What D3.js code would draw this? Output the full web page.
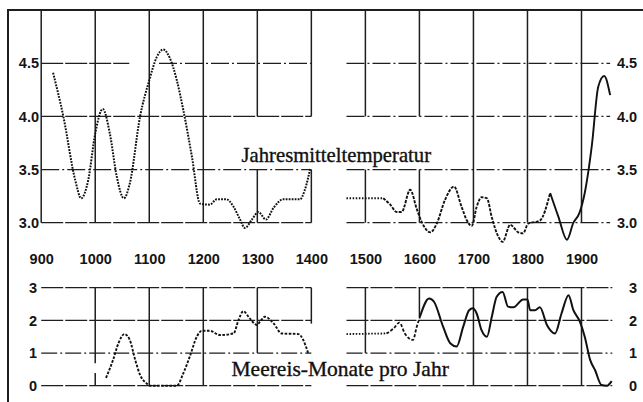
<!DOCTYPE html>
<html>
<head>
<meta charset="utf-8">
<script src="https://cdn.jsdelivr.net/npm/d3@7"></script>
<style>
body { margin: 0; background: #fff; }
svg { display: block; }
.tick text { font-family: "Liberation Sans", Arial, sans-serif; font-weight: bold; font-size: 14.5px; fill: #141414; }
.title { font-family: "Liberation Serif", "Times New Roman", serif; fill: #111; stroke: #111; stroke-width: 0.35px; }
</style>
</head>
<body>
<svg></svg>
<script>
const size = {w: 643, h: 402};
const svg = d3.select('svg').attr('width', size.w).attr('height', size.h);

// ---- values ----
const centuries = [900, 1000, 1100, 1200, 1300, 1400, 1500, 1600, 1700, 1800, 1900];
const tempTicks = [3.0, 3.5, 4.0, 4.5];
const iceTicks = [0, 1, 2, 3];

// annual mean temperature, 900-1400
const tempYearsEarly = [922, 941, 963, 974, 987, 1000, 1014, 1027, 1040, 1053, 1064, 1083, 1100, 1114, 1126, 1138, 1151, 1163, 1179, 1194, 1212, 1225, 1243, 1256, 1268, 1277, 1290, 1302, 1316, 1330, 1348, 1379, 1388, 1398];
const tempValuesEarly = [4.41, 4.0, 3.40, 3.23, 3.40, 3.84, 4.07, 3.84, 3.43, 3.23, 3.37, 4.0, 4.34, 4.56, 4.63, 4.55, 4.34, 4.06, 3.62, 3.18, 3.17, 3.22, 3.22, 3.15, 3.03, 2.95, 3.03, 3.10, 3.03, 3.14, 3.22, 3.22, 3.31, 3.51];
// annual mean temperature, 1465-1953
const tempYearsLate = [1465, 1533, 1546, 1558, 1567, 1583, 1595, 1604, 1620, 1632, 1647, 1664, 1678, 1688, 1697, 1706, 1715, 1725, 1734, 1746, 1754, 1768, 1783, 1792, 1801, 1823, 1842, 1857, 1873, 1885, 1896, 1906, 1919, 1931, 1942, 1953];
const tempValuesLate = [3.23, 3.23, 3.17, 3.10, 3.10, 3.31, 3.13, 3.01, 2.91, 2.99, 3.21, 3.34, 3.15, 3.02, 2.97, 3.15, 3.24, 3.23, 3.05, 2.87, 2.82, 2.98, 2.91, 2.90, 2.99, 3.02, 3.28, 3.06, 2.84, 3.00, 3.09, 3.28, 3.72, 4.28, 4.38, 4.20];

// sea-ice months per year
const iceYearsEarly = [1020, 1033, 1043, 1054, 1064, 1074, 1083, 1095, 1101, 1151, 1163, 1175, 1188, 1197, 1212, 1231, 1256, 1265, 1274, 1286, 1299, 1305, 1314, 1330, 1345, 1376, 1385, 1394];
const iceValuesEarly = [0.24, 0.79, 1.30, 1.58, 1.40, 0.79, 0.33, 0.07, 0.0, 0.0, 0.38, 0.89, 1.50, 1.68, 1.68, 1.55, 1.60, 2.0, 2.28, 2.06, 1.86, 1.96, 2.11, 1.91, 1.60, 1.58, 1.40, 1.0];
const iceYearsLate = [1465, 1539, 1552, 1563, 1573, 1588, 1595, 1601, 1618, 1627, 1644, 1657, 1669, 1681, 1692, 1699, 1706, 1715, 1725, 1734, 1743, 1754, 1764, 1774, 1792, 1800, 1805, 1814, 1823, 1836, 1851, 1863, 1876, 1885, 1897, 1906, 1916, 1925, 1937, 1947, 1956];
const iceValuesLate = [1.58, 1.60, 1.75, 1.93, 1.60, 1.40, 1.80, 2.11, 2.67, 2.57, 1.80, 1.30, 1.20, 1.80, 2.31, 2.37, 2.21, 1.70, 1.50, 2.11, 2.72, 2.87, 2.42, 2.40, 2.64, 2.64, 2.31, 2.31, 2.40, 1.86, 1.60, 2.21, 2.77, 2.31, 1.96, 1.50, 0.79, 0.48, 0.02, 0.0, 0.14];

// scales
const x = d3.scaleLinear().domain([900, 1900]).range([41.2, 581.5]);
const yT = d3.scaleLinear().domain([3, 4.5]).range([222.7, 63.3]);
const yI = d3.scaleLinear().domain([0, 3]).range([385.7, 287.7]);

const ink = '#1e1e1e';

// outer frame (left + top only)
svg.append('path')
    .attr('d', `M8,${size.h} V10 H${size.w}`)
    .attr('fill', 'none').attr('stroke', ink).attr('stroke-width', 2);

const gridG = svg.append('g').attr('stroke', ink).attr('fill', 'none');

function hLine(y, x0, x1, dash) {
    gridG.append('line')
        .attr('x1', x(x0)).attr('x2', x(x1))
        .attr('y1', y).attr('y2', y)
        .attr('stroke-width', 1.3)
        .attr('stroke-dasharray', dash);
}
function vLine(year, y0, y1) {
    gridG.append('line')
        .attr('x1', x(year)).attr('x2', x(year))
        .attr('y1', y0).attr('y2', y1)
        .attr('stroke-width', 1.5);
}

// ---- top panel grid ----
tempTicks.forEach(v => {
    if (v === 4.5) {
        hLine(yT(v), 900, 1063, '22,2');
        hLine(yT(v), 1118, 1400, '18,3,2,3');
    } else {
        hLine(yT(v), 900, 1400, v === 3.5 ? '18,3,2,3' : '22,2');
    }
    hLine(yT(v), 1465, 1953, '18,3,2,3');
});
centuries.forEach(c => {
    if ([1300, 1400, 1500, 1600].includes(c)) {
        vLine(c, 10, yT(4.0));
        vLine(c, yT(3.5), yT(3.0));
    } else {
        vLine(c, 10, yT(3.0));
    }
});

// ---- bottom panel grid ----
iceTicks.forEach(v => {
    hLine(yI(v), 900, 1400, v === 1 ? '16,3,2,3' : '22,2');
    hLine(yI(v), 1465, 1957, v === 1 ? '16,3,2,3' : '22,2');
});
const iceVLow = {1000: 0, 1100: 0, 1200: 0, 1300: 1, 1400: 1.9, 1500: 1, 1600: 2.1, 1700: 0, 1800: 0, 1900: 0};
Object.keys(iceVLow).forEach(k => {
    const c = +k;
    if (c === 1000) {
        vLine(c, yI(3), yI(0.69));
        vLine(c, yI(0.39), yI(0));
    } else {
        vLine(c, yI(3), yI(iceVLow[k]));
    }
});

// ---- axes (labels only) ----
function clean(g) { g.select('.domain').remove(); }

svg.append('g')
    .attr('transform', 'translate(0,253.5)')
    .call(d3.axisBottom(x).tickValues(centuries).tickSize(0).tickPadding(0).tickFormat(d3.format('d')))
    .call(clean);

svg.append('g')
    .attr('transform', 'translate(39,0)')
    .call(d3.axisLeft(yT).tickValues(tempTicks).tickSize(0).tickPadding(0).tickFormat(d3.format('.1f')))
    .call(clean);
svg.append('g')
    .attr('transform', 'translate(617,0)')
    .call(d3.axisRight(yT).tickValues(tempTicks).tickSize(0).tickPadding(0).tickFormat(d3.format('.1f')))
    .call(clean);

svg.append('g')
    .attr('transform', 'translate(37,0)')
    .call(d3.axisLeft(yI).tickValues(iceTicks).tickSize(0).tickPadding(0).tickFormat(d3.format('d')))
    .call(clean);
svg.append('g')
    .attr('transform', 'translate(629,0)')
    .call(d3.axisRight(yI).tickValues(iceTicks).tickSize(0).tickPadding(0).tickFormat(d3.format('d')))
    .call(clean);

// ---- curves ----
const curveG = svg.append('g').attr('fill', 'none').attr('stroke', '#111');

function drawSeries(years, values, yScale, from, to, dash, width) {
    const pts = years.map((yr, i) => [yr, values[i]]).filter(d => d[0] >= from && d[0] <= to);
    const line = d3.line()
        .x(d => x(d[0]))
        .y(d => yScale(d[1]))
        .curve(d3.curveMonotoneX);
    curveG.append('path')
        .attr('d', line(pts))
        .attr('stroke-width', width)
        .attr('stroke-dasharray', dash);
}

// temperature
drawSeries(tempYearsEarly, tempValuesEarly, yT, 900, 1400, '1.8,1.2', 2.0);
drawSeries(tempYearsLate, tempValuesLate, yT, 1465, 1533, '1.5,1.6', 1.8);
drawSeries(tempYearsLate, tempValuesLate, yT, 1533, 1842, '3,1.3', 1.9);
drawSeries(tempYearsLate, tempValuesLate, yT, 1842, 1960, null, 1.9);

// sea ice
drawSeries(iceYearsEarly, iceValuesEarly, yI, 900, 1400, '2.6,1.5', 1.9);
drawSeries(iceYearsLate, iceValuesLate, yI, 1465, 1539, '1.5,1.6', 1.8);
drawSeries(iceYearsLate, iceValuesLate, yI, 1539, 1601, '3,1.8', 1.8);
drawSeries(iceYearsLate, iceValuesLate, yI, 1601, 1960, null, 2.0);

// ---- titles ----
svg.append('text').attr('class', 'title')
    .attr('x', 241.5).attr('y', 162)
    .style('font-size', '20.7px')
    .text('Jahresmitteltemperatur');
svg.append('text').attr('class', 'title')
    .attr('x', 231.5).attr('y', 375.5)
    .style('font-size', '21.5px')
    .text('Meereis-Monate pro Jahr');
</script>
</body>
</html>
